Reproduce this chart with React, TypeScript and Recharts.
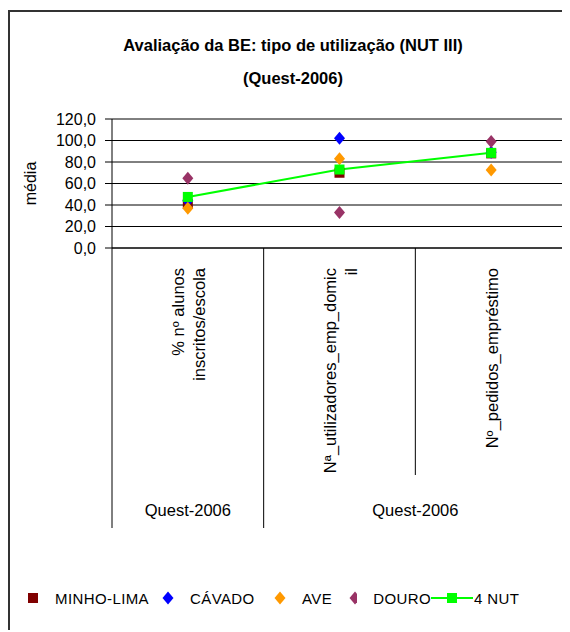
import React from "react";
import {
  ComposedChart,
  Line,
  XAxis,
  YAxis,
  CartesianGrid,
  Legend,
} from "recharts";

// category labels (wrapped as in the original) and the group row under them
const categories = ["alunos", "utilizadores", "pedidos"];
const categoryLines = [
  ["% nº alunos", "inscritos/escola"],
  ["Nª_utilizadores_emp_domic", "il"],
  ["Nº_pedidos_empréstimo"],
];
const groups = [
  { label: "Quest-2006", span: 1 },
  { label: "Quest-2006", span: 2 },
];

// NUT III averages
const minhoLima = [41, 70, 88];
const cavado = [44, 102, 89];
const ave = [37, 83, 72.5];
const douro = [65, 33, 99];
const nut4 = [47.5, 73, 88.5];

const yTicks = [0, 20, 40, 60, 80, 100, 120];

const series = [
  { key: "minho", name: "MINHO-LIMA", values: minhoLima, color: "#800000", shape: "square" },
  { key: "cavado", name: "CÁVADO", values: cavado, color: "#0000FF", shape: "diamond" },
  { key: "ave", name: "AVE", values: ave, color: "#FF9900", shape: "diamond" },
  { key: "douro", name: "DOURO", values: douro, color: "#993366", shape: "diamond" },
];

const data = categories.map((c, i) => ({
  cat: c,
  minho: minhoLima[i],
  cavado: cavado[i],
  ave: ave[i],
  douro: douro[i],
  nut4: nut4[i],
}));

const FONT = "'Liberation Sans', Arial, sans-serif";
const CHART_W = 560;
const CHART_H = 620;
const Y_AXIS_W = 102;
const MARGIN = { top: 107, right: 3, bottom: 4, left: 0 };
const X_AXIS_H = 280;
const BAND = (CHART_W - Y_AXIS_W - MARGIN.right) / categories.length;

const fmt = (v: number) => v.toFixed(1).replace(".", ",");

function Marker({ cx, cy, shape, color }: any) {
  if (cx == null || cy == null) return null;
  if (shape === "square") {
    return <rect x={cx - 5} y={cy - 5} width={10} height={10} fill={color} />;
  }
  return (
    <path
      d={`M${cx},${cy - 6.5}L${cx + 5.5},${cy}L${cx},${cy + 6.5}L${cx - 5.5},${cy}Z`}
      fill={color}
    />
  );
}

function CategoryTick(props: any) {
  const { x, y, index } = props;
  const lines = categoryLines[index] || [];
  const left = x - BAND / 2;
  const right = x + BAND / 2;
  const n = lines.length;

  // group label, centred on its span of categories
  let start = 0;
  let groupEl = null;
  let isGroupStart = false;
  groups.forEach((g, gi) => {
    if (start === index) {
      isGroupStart = true;
      const cx = left + (BAND * g.span) / 2;
      groupEl = (
        <text
          key={`g${gi}`}
          x={cx}
          y={y + 268}
          textAnchor="middle"
          fontSize={16.5}
          fontFamily={FONT}
          fill="#000"
        >
          {g.label}
        </text>
      );
    }
    start += g.span;
  });

  return (
    <g>
      <line
        x1={left}
        x2={left}
        y1={y}
        y2={isGroupStart ? y + 280 : y + 227}
        stroke="#000"
      />
      {index === categories.length - 1 && (
        <line x1={right} x2={right} y1={y} y2={y + 280} stroke="#000" />
      )}
      {lines.map((t: string, i: number) => (
        <text
          key={i}
          transform={`translate(${x + 6.5 + (i - (n - 1) / 2) * 21}, ${y + 20}) rotate(-90)`}
          textAnchor="end"
          fontSize={16.5}
          fontFamily={FONT}
          fill="#000"
        >
          {t}
        </text>
      ))}
      {groupEl}
    </g>
  );
}

function LegendBox() {
  const itemW = [135, 112, 75, 82];
  return (
    <div
      style={{
        height: 100,
        boxSizing: "border-box",
        paddingTop: 40,
        paddingLeft: 17,
        display: "flex",
        alignItems: "center",
        fontFamily: FONT,
        fontSize: 15,
        color: "#000",
        letterSpacing: 0.4,
      }}
    >
      {series.map((s, i) => (
        <div
          key={s.key}
          style={{ width: itemW[i], display: "flex", alignItems: "center", height: 20 }}
        >
          <svg width={12} height={14} style={{ marginRight: 16 }}>
            <Marker cx={6} cy={7} shape={s.shape} color={s.color} />
          </svg>
          <span>{s.name}</span>
        </div>
      ))}
      <div style={{ display: "flex", alignItems: "center", height: 20 }}>
        <svg width={42} height={14}>
          <line x1={0} x2={42} y1={7} y2={7} stroke="#00FF00" strokeWidth={2} />
          <Marker cx={21} cy={7} shape="square" color="#00FF00" />
        </svg>
        <span style={{ marginLeft: 1 }}>4 NUT</span>
      </div>
    </div>
  );
}

export default function App() {
  return (
    <div
      style={{
        position: "relative",
        top: 2,
        width: CHART_W,
        height: CHART_H,
        borderTop: "2px solid #333",
        borderLeft: "2px solid #333",
        fontFamily: FONT,
      }}
    >
      <div
        style={{
          position: "absolute",
          left: 10,
          width: 546,
          top: 23,
          textAlign: "center",
          fontWeight: "bold",
          fontSize: 16.5,
          lineHeight: "20px",
        }}
      >
        Avaliação da BE: tipo de utilização (NUT III)
      </div>
      <div
        style={{
          position: "absolute",
          left: 10,
          width: 546,
          top: 56,
          textAlign: "center",
          fontWeight: "bold",
          fontSize: 16.5,
          lineHeight: "20px",
        }}
      >
        (Quest-2006)
      </div>
      <ComposedChart width={CHART_W} height={CHART_H} data={data} margin={MARGIN}>
        <CartesianGrid horizontal vertical={false} stroke="#000" />
        <XAxis
          dataKey="cat"
          scale="band"
          height={X_AXIS_H}
          interval={0}
          tickSize={0}
          tickMargin={0}
          tickLine={false}
          axisLine={{ stroke: "#000" }}
          tick={<CategoryTick />}
        />
        <YAxis
          type="number"
          domain={[0, 120]}
          ticks={yTicks}
          interval={0}
          width={Y_AXIS_W}
          tickFormatter={fmt}
          tickSize={7}
          tickMargin={9}
          axisLine={{ stroke: "#000" }}
          tickLine={{ stroke: "#000" }}
          tick={{ fill: "#000", fontSize: 16, fontFamily: FONT }}
          label={(p: any) => {
            const vb = p.viewBox || { x: 0, y: 107, height: 129 };
            const cy = vb.y + vb.height / 2;
            return (
              <text
                transform={`translate(26, ${cy}) rotate(-90)`}
                textAnchor="middle"
                fontSize={16}
                fontFamily={FONT}
                fill="#000"
              >
                média
              </text>
            );
          }}
        />
        <Legend verticalAlign="bottom" wrapperStyle={{ left: 0, width: CHART_W }} content={<LegendBox />} />
        {series.map((s) => (
          <Line
            key={s.key}
            dataKey={s.key}
            name={s.name}
            stroke="none"
            isAnimationActive={false}
            activeDot={false}
            dot={(p: any) => (
              <Marker key={`${s.key}-${p.index}`} cx={p.cx} cy={p.cy} shape={s.shape} color={s.color} />
            )}
          />
        ))}
        <Line
          dataKey="nut4"
          name="4 NUT"
          type="linear"
          stroke="#00FF00"
          strokeWidth={2}
          isAnimationActive={false}
          activeDot={false}
          dot={(p: any) => (
            <Marker key={`nut-${p.index}`} cx={p.cx} cy={p.cy} shape="square" color="#00FF00" />
          )}
        />
      </ComposedChart>
    </div>
  );
}
